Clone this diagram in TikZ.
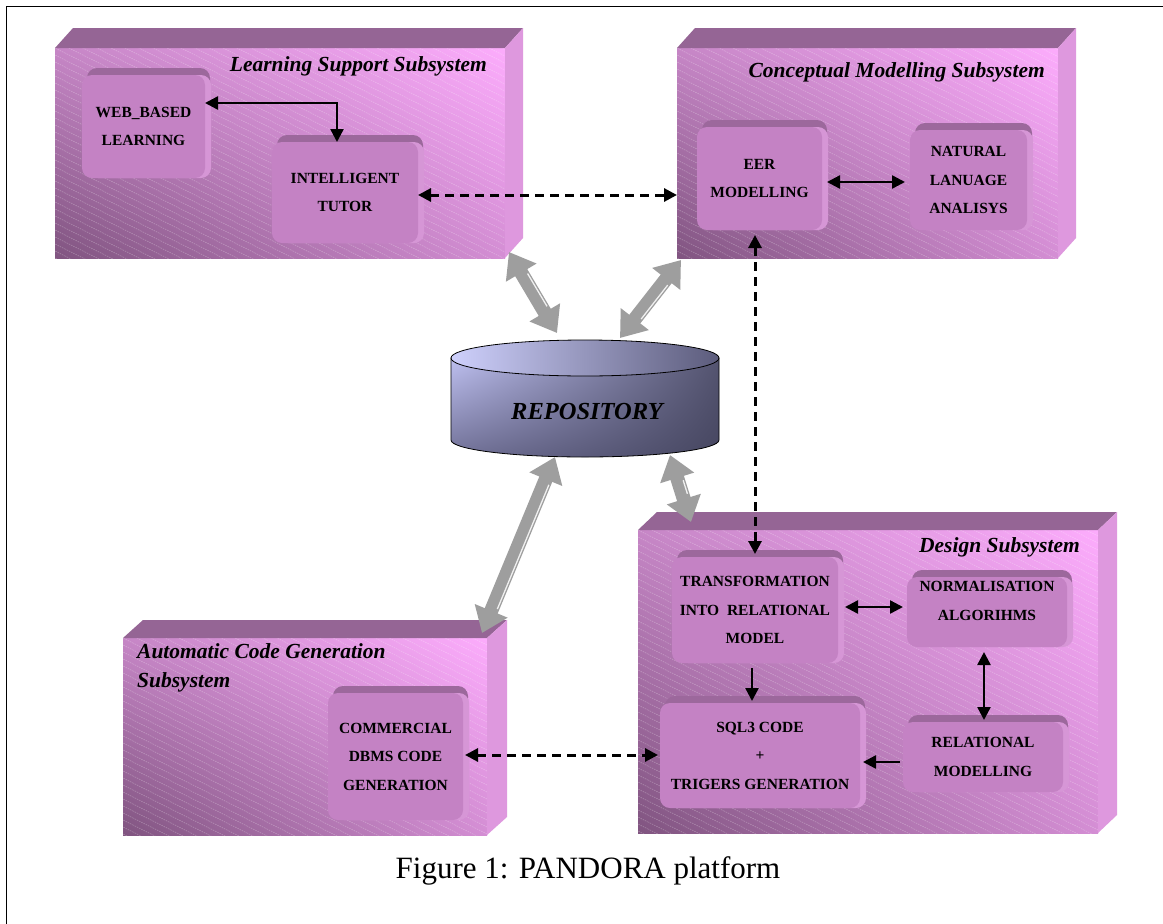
\documentclass[tikz,border=0pt]{standalone}
\usepackage{fontspec}
\setmainfont{Liberation Serif}
\usetikzlibrary{arrows.meta,calc,shadows,shadings}

\definecolor{bigtopc}{RGB}{149,101,149}
\definecolor{bigrightc}{RGB}{222,152,222}
\definecolor{bigUL}{RGB}{198,134,198}
\definecolor{bigUR}{RGB}{252,172,252}
\definecolor{bigLL}{RGB}{128,84,128}
\definecolor{bigLR}{RGB}{212,142,212}
\definecolor{innerfront}{RGB}{196,130,196}
\definecolor{innertop}{RGB}{156,104,156}
\definecolor{innerright}{RGB}{214,150,214}
\definecolor{cylUL}{RGB}{190,192,240}
\definecolor{cylUR}{RGB}{84,84,112}
\definecolor{cylLL}{RGB}{112,112,150}
\definecolor{cylLR}{RGB}{70,70,96}
\definecolor{ellL}{RGB}{206,208,252}
\definecolor{ellR}{RGB}{92,92,124}
\definecolor{fatgray}{RGB}{158,158,158}

\tikzset{
  hatchline/.style={white, opacity=0.3, line width=0.6pt, dash pattern=on 1.5pt off 1pt},
  bigface/.style={rectangle, inner sep=0pt, outer sep=0pt, shade,
    upper left=bigUL, upper right=bigUR, lower left=bigLL, lower right=bigLR,
    path picture={
      \foreach \i in {-68,...,18} {
        \draw[hatchline] ($(path picture bounding box.north west)+(-420,\i*7)$) -- ++(1400,700);
      }
    }},
  innerbox/.style={rectangle, rounded corners=10pt, fill=innerfront, inner sep=0pt, outer sep=0pt,
    align=center, font=\bfseries\fontsize{15.5}{28.5}\selectfont,
    general shadow={fill=innertop, shadow xshift=5pt, shadow yshift=7pt},
    general shadow={fill=innerright, shadow xshift=6pt, shadow yshift=0pt}},
  title/.style={font=\bfseries\itshape\fontsize{21.5}{29}\selectfont, inner sep=0pt, align=left},
  solidc/.style={line width=2.4pt, >={Triangle[length=13pt,width=13pt]}},
  dashc/.style={line width=3pt, dash pattern=on 9pt off 6pt, >={Triangle[length=13pt,width=13pt]}},
  fat/.style={line width=14pt, draw=fatgray, >={Triangle[length=24pt,width=34pt]}, <->},
  hilite/.style={draw=white!85!fatgray, line width=1.3pt, shorten <=28pt, shorten >=28pt}
}

\newcommand\boxfaces[3]{%
  \fill[bigtopc] (#1.north west) -- ++(#2,-#3) -- ($(#1.north east)+(#2,-#3)$) -- (#1.north east) -- cycle;
  \fill[bigrightc] (#1.north east) -- ++(#2,-#3) -- ($(#1.south east)+(#2,-#3)$) -- (#1.south east) -- cycle;}

\newcommand\fatarrow[2]{%
  \draw[fat] (#1) -- (#2);
  \draw[hilite] ($(#1)!5pt!90:(#2)$) -- ($(#2)!5pt!-90:(#1)$);}

\begin{document}
\begin{tikzpicture}[x=1pt, y=-1pt]
\useasboundingbox (0,0) rectangle (1163,924);
\fill[white] (0,0) rectangle (1163,924);
\draw[line width=1.3pt] (6.5,924) -- (6.5,6.5) -- (1163,6.5);

% ---------- big subsystem boxes ----------
\node[bigface, minimum width=450pt, minimum height=210pt] (ls) at (280,153) {};
\boxfaces{ls}{18}{20}
\node[bigface, minimum width=381pt, minimum height=210pt] (cm) at (867.5,153) {};
\boxfaces{cm}{18}{20}
\node[bigface, minimum width=460pt, minimum height=303pt] (ds) at (868,681.5) {};
\boxfaces{ds}{19}{18}
\node[bigface, minimum width=364pt, minimum height=197pt] (acg) at (305,736.5) {};
\boxfaces{acg}{20}{18}

% titles
\node[title, anchor=east] (lst) at (487,66) {Learning Support Subsystem};
\node[title, anchor=east] (cmt) at (1045,72) {Conceptual Modelling Subsystem};
\node[title, anchor=east] (dst) at (1080,547) {Design Subsystem};
\node[title, anchor=west] (acgt) at (137,667.5) {Automatic Code Generation\\Subsystem};

% ---------- inner boxes ----------
\node[innerbox, minimum width=123pt, minimum height=103pt] (web) at (143.5,126.5) {WEB\_BASED\\LEARNING};
\node[innerbox, minimum width=146pt, minimum height=101pt] (tutor) at (345,192.5) {INTELLIGENT\\TUTOR};
\node[innerbox, minimum width=125pt, minimum height=103pt] (eer) at (759.5,178.5) {EER\\MODELLING};
\node[innerbox, minimum width=117pt, minimum height=100pt] (nat) at (968.5,180) {NATURAL\\LANUAGE\\ANALISYS};
\node[innerbox, minimum width=166pt, minimum height=106pt] (trans) at (755,610) {TRANSFORMATION\\INTO\ \ RELATIONAL\\MODEL};
\node[innerbox, minimum width=160pt, minimum height=70pt] (norm) at (987,612) {NORMALISATION\\ALGORIHMS\\[-6pt]\mbox{}};
\node[innerbox, minimum width=200pt, minimum height=105pt] (sql) at (760,755.5) {SQL3 CODE\\+\\TRIGERS GENERATION};
\node[innerbox, minimum width=160pt, minimum height=70pt] (rel) at (983,757) {RELATIONAL\\MODELLING};
\node[innerbox, minimum width=135pt, minimum height=127pt] (comm) at (395.5,756.5) {COMMERCIAL\\DBMS CODE\\GENERATION};

% ---------- repository ----------
\shade[upper left=cylUL, upper right=cylUR, lower left=cylLL, lower right=cylLR, draw=black, line width=0.8pt]
  (451,358) -- (451,440) arc[start angle=180, end angle=360, x radius=134pt, y radius=17pt] -- (719,358) -- cycle;
\shade[left color=ellL, right color=ellR, draw=black, line width=0.8pt]
  (585,358) ellipse[x radius=134pt, y radius=18pt];
\node[font=\bfseries\itshape\fontsize{24.5}{28}\selectfont] (repo) at (587,412) {REPOSITORY};

% ---------- gray double arrows ----------
\coordinate (g1a) at (509,252); \coordinate (g1b) at (557,333);
\coordinate (g2a) at (681,260); \coordinate (g2b) at (620,338);
\coordinate (g3a) at (555,457); \coordinate (g3b) at (482,633);
\coordinate (g4a) at (670,455); \coordinate (g4b) at (691,522);
\fatarrow{g1a}{g1b}
\fatarrow{g2a}{g2b}
\fatarrow{g3a}{g3b}
\fatarrow{g4a}{g4b}

% ---------- connectors ----------
\draw[solidc, <->] ([yshift=23.5pt]web.east) -| ([xshift=-8pt]tutor.north);
\draw[dashc, <->] ([yshift=-2.5pt]tutor.east) -- ([yshift=-2.5pt]tutor.east -| cm.west);
\draw[solidc, <->, shorten <=5pt, shorten >=5pt] ([yshift=-3.5pt]eer.east) -- ([yshift=-3.5pt]eer.east -| nat.west);
\draw[dashc, <->, shorten <=5pt, shorten >=3pt] ([xshift=-4.5pt]eer.south) -- ([xshift=-4.5pt]eer.south |- trans.north);
\draw[solidc, <->, shorten <=7pt, shorten >=4pt] ([yshift=3pt]trans.east) -- ([yshift=3pt]trans.east -| norm.west);
\draw[solidc, ->, shorten <=5pt, shorten >=2pt] ([xshift=-3pt]trans.south) -- ([xshift=-3pt]trans.south |- sql.north);
\draw[solidc, <->, shorten <=5pt, shorten >=2pt] ([xshift=-3pt]norm.south) -- ([xshift=-3pt]norm.south |- rel.north);
\draw[solidc, ->, shorten <=3pt, shorten >=3pt] ([yshift=-5pt]rel.west) -- ([yshift=-5pt]rel.west -| sql.east);
\draw[dashc, <->, shorten <=2pt, shorten >=2pt] ([yshift=1.5pt]comm.east) -- ([yshift=1.5pt]comm.east -| sql.west);

% ---------- caption ----------
\node[font=\fontsize{31}{36}\selectfont] (cap) at (588,871) {Figure 1: PANDORA platform};
\end{tikzpicture}
\end{document}
